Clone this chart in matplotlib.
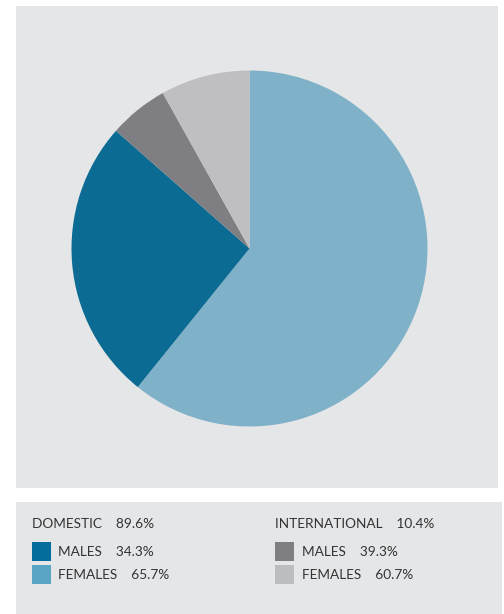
import matplotlib
matplotlib.use("Agg")
import matplotlib.pyplot as plt
from matplotlib.patches import Rectangle

# Pie slice shares (clockwise from 12 o'clock)
slice_names = ["Domestic females", "Domestic males", "International males", "International females"]
slice_values = [60.8, 25.7, 5.4, 8.1]
slice_colors = ["#7fb2c8", "#0b6b93", "#7f7e82", "#bfbfc1"]

# Legend content
group_titles = ["DOMESTIC", "INTERNATIONAL"]
group_totals = ["89.6%", "10.4%"]
sub_labels = ["MALES", "FEMALES"]
sub_values = [["34.3%", "65.7%"], ["39.3%", "60.7%"]]
swatch_colors = [["#046d9b", "#5aa5c6"], ["#7f7f83", "#bcbdc0"]]

W, H = 504, 614
BG = "#e5e6e8"
TXT = "#333333"
fig = plt.figure(figsize=(W / 100, H / 100), dpi=100)
fig.patch.set_facecolor("white")

def fx(x):
    return x / W

def fy(y):
    return 1 - y / H

# panels
fig.patches.append(Rectangle((fx(16), fy(488)), fx(498) - fx(16), fy(6) - fy(488),
                             transform=fig.transFigure, facecolor=BG, edgecolor="none", zorder=-2))
fig.patches.append(Rectangle((fx(16), fy(614)), fx(502) - fx(16), fy(502) - fy(614),
                             transform=fig.transFigure, facecolor=BG, edgecolor="none", zorder=-2))

# pie
cx, cy, r = 249.5, 248.5, 178
ax = fig.add_axes([fx(cx - r), fy(cy + r), 2 * r / W, 2 * r / H], zorder=2)
ax.patch.set_alpha(0)
ax.pie(slice_values, colors=slice_colors, startangle=90, counterclock=False,
       radius=1, wedgeprops=dict(linewidth=0))
ax.set_xlim(-1, 1)
ax.set_ylim(-1, 1)
ax.set_aspect("auto")
ax.axis("off")

# legend
col_x = [32, 275]
fs = 9.8
gap = "    "
for g in range(2):
    x0 = col_x[g]
    fig.text(fx(x0), fy(523.5), f"{group_titles[g]}{gap}{group_totals[g]}", fontsize=fs,
             color=TXT, va="center", ha="left", family="Lato", zorder=3)
    for k in range(2):
        top = 542 + k * 23
        fig.patches.append(Rectangle((fx(x0), fy(top + 19)), 19 / W, 19 / H,
                                     transform=fig.transFigure, facecolor=swatch_colors[g][k],
                                     edgecolor="none", zorder=1))
        fig.text(fx(x0 + 26.5), fy(top + 10), f"{sub_labels[k]}{gap}{sub_values[g][k]}", fontsize=fs,
                 color=TXT, va="center", ha="left", family="Lato", zorder=3)

fig.savefig("out.png", dpi=100, facecolor="white")
